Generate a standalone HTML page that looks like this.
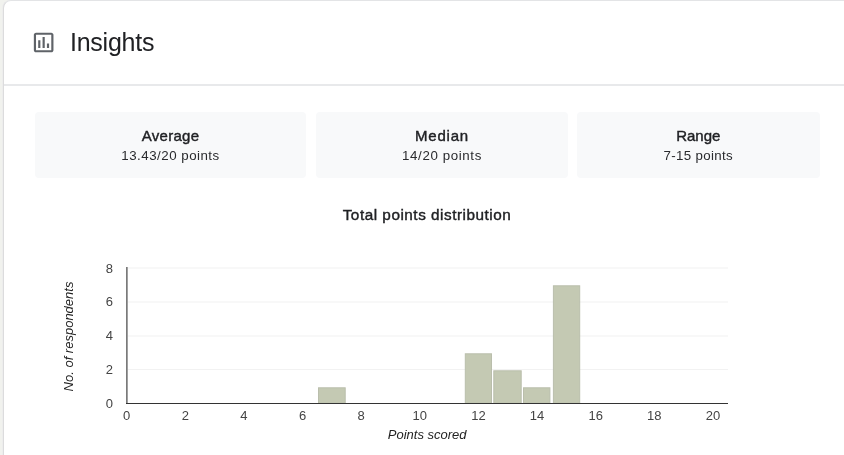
<!DOCTYPE html>
<html><head><meta charset="utf-8">
<style>
html,body{margin:0;padding:0;}
body{width:844px;height:455px;overflow:hidden;background:#f1f2ee;font-family:"Liberation Sans",sans-serif;}
#root{position:absolute;left:0;top:0;width:844px;height:455px;overflow:hidden;background:#f1f2ee;will-change:transform;}
.card{position:absolute;left:3px;top:0;width:900px;height:520px;background:#fff;border:1px solid #dcdcdd;border-top-color:#e3e4e6;border-radius:8px;box-sizing:border-box;box-shadow:-1px 0 0 0 #ededed;}
.title{position:absolute;left:70px;top:27px;font-size:25px;letter-spacing:-0.25px;line-height:30px;color:#202124;white-space:nowrap;}
.divider{position:absolute;left:4px;top:84px;width:900px;height:2px;background:#e8e9eb;}
.box{position:absolute;top:112px;height:66px;background:#f8f9fa;border-radius:4px;text-align:center;}
.bt{position:absolute;left:0;right:0;top:15px;font-size:15px;font-weight:normal;-webkit-text-stroke:0.4px #202124;line-height:18px;color:#202124;white-space:nowrap;}
.bs{position:absolute;left:0;right:0;top:34.6px;font-size:13.3px;letter-spacing:0.5px;line-height:18px;color:#292a2d;white-space:nowrap;}
.ctitle{position:absolute;left:0;width:854px;top:206px;text-align:center;font-size:15.3px;font-weight:normal;-webkit-text-stroke:0.4px #202124;letter-spacing:0.52px;line-height:18px;color:#202124;white-space:nowrap;}
svg{position:absolute;left:0;top:0;}
</style></head>
<body>
<div id="root">
<div class="card"></div>
<div class="divider"></div>
<svg width="844" height="455" viewBox="0 0 844 455">
  <g transform="translate(30.57 29.42) scale(1.09)" fill="#5f6368">
    <path d="M9 17H7v-7h2v7zm4 0h-2V7h2v10zm4 0h-2v-4h2v4zm2 2H5V5h14v14zm0-16H5c-1.1 0-2 .9-2 2v14c0 1.1.9 2 2 2h14c1.1 0 2-.9 2-2V5c0-1.1-.9-2-2-2z"/>
  </g>
</svg>
<div class="title">Insights</div>

<div class="box" style="left:35px;width:271px;"><div class="bt" style="letter-spacing:0.28px">Average</div><div class="bs">13.43/20 points</div></div>
<div class="box" style="left:316px;width:252px;"><div class="bt" style="letter-spacing:0.8px">Median</div><div class="bs" style="letter-spacing:0.62px">14/20 points</div></div>
<div class="box" style="left:577px;width:242.5px;"><div class="bt" style="letter-spacing:0px">Range</div><div class="bs" style="letter-spacing:0.32px">7-15 points</div></div>

<div class="ctitle">Total points distribution</div>

<svg width="844" height="455" viewBox="0 0 844 455" font-family="'Liberation Sans', sans-serif">
  <g fill="#f2f2f2">
    <rect x="128" y="267.5" width="600" height="1"/>
    <rect x="128" y="301.5" width="600" height="1"/>
    <rect x="128" y="335.5" width="600" height="1"/>
    <rect x="128" y="369" width="600" height="1"/>
  </g>
  <g fill="#c4c9b3" stroke="#babeac" stroke-width="1">
    <rect x="318.50" y="387.80" width="26.70" height="15.50"/>
    <rect x="465.30" y="353.80" width="26.20" height="49.50"/>
    <rect x="493.80" y="370.80" width="27.40" height="32.50"/>
    <rect x="523.50" y="387.80" width="26.40" height="15.50"/>
    <rect x="553.40" y="285.80" width="26.30" height="117.50"/>
  </g>
  <rect x="126" y="267" width="1" height="137" fill="#7a7a7a"/>
  <rect x="127" y="267" width="1" height="137" fill="#a0a0a0"/>
  <rect x="126" y="403" width="602" height="1" fill="#333"/>
  <g font-size="13" fill="#444" text-anchor="end">
    <text x="113" y="273">8</text>
    <text x="113" y="305.8">6</text>
    <text x="113" y="340.0">4</text>
    <text x="113" y="374.1">2</text>
    <text x="113" y="407.8">0</text>
  </g>
  <g font-size="13" fill="#444" text-anchor="middle">
    <text x="126.7" y="419.8">0</text>
    <text x="185.3" y="419.8">2</text>
    <text x="243.9" y="419.8">4</text>
    <text x="302.6" y="419.8">6</text>
    <text x="361.2" y="419.8">8</text>
    <text x="419.8" y="419.8">10</text>
    <text x="478.4" y="419.8">12</text>
    <text x="537.0" y="419.8">14</text>
    <text x="595.7" y="419.8">16</text>
    <text x="654.3" y="419.8">18</text>
    <text x="712.9" y="419.8">20</text>
  </g>
  <text x="427.2" y="438.6" font-size="13" font-style="italic" fill="#222" text-anchor="middle">Points scored</text>
  <text transform="translate(72.8 336.5) rotate(-90)" font-size="13" font-style="italic" fill="#222" text-anchor="middle">No. of respondents</text>
</svg>
</div>
</body></html>
